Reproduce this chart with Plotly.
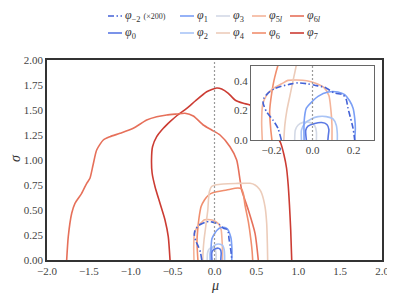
import plotly.graph_objects as go

# ---------------- data ----------------
series_names = ["φ-2", "φ0", "φ1", "φ2", "φ3", "φ4", "φ5l", "φ6", "φ6l", "φ7"]

phim2_mu = [-0.152, -0.168, -0.193, -0.225, -0.241, -0.237, -0.217, -0.185, -0.152, -0.103, -0.071,
            -0.022, 0.011, 0.059, 0.108, 0.149, 0.165, 0.173, 0.186, 0.198, 0.206]
phim2_sigma = [0.0, 0.078, 0.135, 0.192, 0.249, 0.283, 0.317, 0.347, 0.363, 0.379, 0.386,
               0.379, 0.37, 0.356, 0.317, 0.306, 0.272, 0.215, 0.146, 0.078, 0.0]

phi0_mu = [-0.03, -0.033, -0.022, 0.011, 0.045, 0.07, 0.08, 0.077, 0.075]
phi0_sigma = [0.0, 0.066, 0.094, 0.112, 0.118, 0.105, 0.07, 0.03, 0.0]

phi1_mu = [-0.041, -0.041, -0.03, 0.002, 0.027, 0.076, 0.124, 0.157, 0.181, 0.198, 0.206, 0.209, 0.206]
phi1_sigma = [0.0, 0.123, 0.215, 0.265, 0.295, 0.324, 0.324, 0.306, 0.265, 0.215, 0.146, 0.078, 0.0]

phi2_mu = [-0.054, -0.054, -0.038, -0.006, 0.027, 0.067, 0.1, 0.116, 0.121, 0.121]
phi2_sigma = [0.0, 0.066, 0.112, 0.142, 0.158, 0.158, 0.142, 0.1, 0.043, 0.0]

phi3_mu = [-0.087, -0.084, -0.071, -0.046, -0.014, 0.011, 0.019, 0.019]
phi3_sigma = [0.0, 0.066, 0.1, 0.119, 0.119, 0.096, 0.055, 0.0]

phi4_mu = [-0.14, -0.135, -0.125, -0.11, -0.095, -0.08, -0.072, -0.062, -0.035, 0.02, 0.105, 0.25,
           0.424, 0.484, 0.535, 0.563, 0.603, 0.623, 0.631, 0.635]
phi4_sigma = [0.0, 0.1, 0.2, 0.3, 0.4, 0.5, 0.6, 0.68, 0.735, 0.752, 0.76, 0.765,
              0.767, 0.75, 0.71, 0.667, 0.533, 0.367, 0.167, 0.0]

phi5l_mu = [-0.245, -0.248, -0.243, -0.225, -0.195, -0.15, -0.12, -0.077, -0.028, 0.012, 0.055,
            0.08, 0.09, 0.095, 0.095]
phi5l_sigma = [0.0, 0.12, 0.24, 0.3, 0.345, 0.38, 0.403, 0.405, 0.4, 0.385, 0.355,
               0.3, 0.2, 0.1, 0.0]

phi6_mu = [-0.198, -0.204, -0.209, -0.2, -0.185, -0.16, -0.12, -0.07, -0.014, 0.145, 0.28,
           0.324, 0.345, 0.364, 0.404, 0.435, 0.45, 0.456]
phi6_sigma = [0.0, 0.078, 0.192, 0.306, 0.42, 0.534, 0.6, 0.65, 0.675, 0.7, 0.72,
              0.71, 0.66, 0.55, 0.383, 0.2, 0.08, 0.0]

phi6l_mu = [-1.765, -1.746, -1.705, -1.666, -1.586, -1.526, -1.487, -1.45, -1.407, -1.328, -1.248,
            -1.128, -0.97, -0.81, -0.69, -0.571, -0.45, -0.352, -0.253, -0.134, -0.033, 0.066,
            0.185, 0.265, 0.305, 0.324, 0.404, 0.484, 0.523]
phi6l_sigma = [0.0, 0.233, 0.467, 0.567, 0.667, 0.767, 0.817, 0.95, 1.1, 1.2, 1.233,
               1.267, 1.317, 1.4, 1.433, 1.45, 1.46, 1.467, 1.44, 1.35, 1.3, 1.25,
               1.133, 1.0, 0.8, 0.7, 0.5, 0.267, 0.0]

phi7_mu = [-0.531, -0.552, -0.591, -0.651, -0.71, -0.745, -0.752, -0.74, -0.69, -0.611, -0.531,
           -0.44, -0.332, -0.23, -0.093, 0.026, 0.086, 0.165, 0.245, 0.344, 0.424, 0.55, 0.66,
           0.74, 0.79, 0.83, 0.86, 0.88, 0.895, 0.91, 0.922]
phi7_sigma = [0.0, 0.233, 0.4, 0.567, 0.733, 0.87, 1.0, 1.133, 1.233, 1.317, 1.383,
              1.45, 1.517, 1.59, 1.683, 1.72, 1.71, 1.667, 1.6, 1.567, 1.55, 1.47, 1.36,
              1.25, 1.17, 1.05, 0.92, 0.75, 0.55, 0.3, 0.0]

legend_labels = ["<i>φ</i><sub>−2</sub> <span style='font-size:8px'>(×200)</span>",
                 "<i>φ</i><sub>0</sub>", "<i>φ</i><sub>1</sub>", "<i>φ</i><sub>2</sub>",
                 "<i>φ</i><sub>3</sub>", "<i>φ</i><sub>4</sub>", "<i>φ</i><sub>5<i>l</i></sub>",
                 "<i>φ</i><sub>6</sub>", "<i>φ</i><sub>6<i>l</i></sub>", "<i>φ</i><sub>7</sub>"]

main_x_ticks = [-2.0, -1.5, -1.0, -0.5, 0.0, 0.5, 1.0, 1.5, 2.0]
main_y_ticks = [0.0, 0.25, 0.5, 0.75, 1.0, 1.25, 1.5, 1.75, 2.0]
inset_x_ticks = [-0.2, 0.0, 0.2]
inset_y_ticks = [0.0, 0.2, 0.4]

# ---------------- styling ----------------
colors = ["#4462d6", "#5a78e4", "#7b9ff5", "#a9c4f6", "#d3d9e6",
          "#ecccba", "#f4b49a", "#f08e6e", "#e6705a", "#cc3c33"]
dashes = ["6px,2.5px,1.5px,2.5px"] + ["solid"] * 9

data = [(phim2_mu, phim2_sigma), (phi0_mu, phi0_sigma), (phi1_mu, phi1_sigma),
        (phi2_mu, phi2_sigma), (phi3_mu, phi3_sigma), (phi4_mu, phi4_sigma),
        (phi5l_mu, phi5l_sigma), (phi6_mu, phi6_sigma), (phi6l_mu, phi6l_sigma),
        (phi7_mu, phi7_sigma)]

FONT = "Liberation Serif, DejaVu Serif, serif"
OFF = 8  # page body margin of the browser
W, H = 395 - OFF, 299 - OFF
PL, PR, PT, PB = 47, 382, 60, 260          # plot area in window pixels
L, T = PL - OFF, PT - OFF
PW, PH = PR - PL, PB - PT
R, B = W - L - PW, H - T - PH

def pxx(px):
    return (px - PL) / PW

def pxy(py):
    return (PB - py) / PH

fig = go.Figure()

order = [9, 8, 7, 6, 5, 4, 3, 2, 1, 0]
for axes in (("x", "y"), ("x2", "y2")):
    for i in order:
        mu, sg = data[i]
        fig.add_trace(go.Scatter(
            x=mu, y=sg, mode="lines", name=series_names[i], showlegend=False,
            xaxis=axes[0], yaxis=axes[1], hoverinfo="skip",
            line=dict(color=colors[i], width=1.6, dash=dashes[i],
                      shape="spline", smoothing=0.6)))

# dotted zero lines
for xr, yr in (("x", "y domain"), ("x2", "y2 domain")):
    fig.add_shape(type="line", xref=xr, yref=yr, x0=0, x1=0, y0=0, y1=1,
                  line=dict(color="#9a9a9a", width=1.2, dash="2px,2px"), layer="above")

# manual legend (two rows, five columns)
col_px = [108, 180, 216, 252, 290]
row_py = [16, 33]
grid = [[0, 2, 4, 6, 8], [1, 3, 5, 7, 9]]
for r, row in enumerate(grid):
    for c, idx in enumerate(row):
        x0 = col_px[c]
        y = row_py[r]
        fig.add_shape(type="line", xref="paper", yref="paper",
                      x0=pxx(x0), x1=pxx(x0 + 14), y0=pxy(y), y1=pxy(y),
                      line=dict(color=colors[idx], width=1.6, dash=dashes[idx]))
        fig.add_annotation(xref="paper", yref="paper", x=pxx(x0 + 15), y=pxy(y),
                           text=legend_labels[idx], showarrow=False,
                           xanchor="left", yanchor="middle",
                           font=dict(family=FONT, size=12, color="#333"))

# axis titles
fig.add_annotation(xref="paper", yref="paper", x=pxx(214.5), y=pxy(285),
                   text="<i>μ</i>", showarrow=False, xanchor="center", yanchor="middle",
                   font=dict(family=FONT, size=14, color="#333"))
fig.add_annotation(xref="paper", yref="paper", x=pxx(15), y=pxy(158),
                   text="<i>σ</i>", showarrow=False, xanchor="center", yanchor="middle",
                   textangle=-90, font=dict(family=FONT, size=14, color="#333"))

tickfont = dict(family=FONT, size=11, color="#444")
common = dict(showgrid=False, zeroline=False, ticks="", tickfont=tickfont,
              automargin=False, showline=True, mirror=True)
fig.update_layout(
    width=W, height=H, margin=dict(l=L, r=R, t=T, b=B, autoexpand=False),
    paper_bgcolor="white", plot_bgcolor="white", showlegend=False,
    xaxis=dict(domain=[0, 1], range=[-2, 2], tickvals=main_x_ticks, tickformat=".1f",
               linecolor="#333", linewidth=1.8, **common),
    yaxis=dict(domain=[0, 1], range=[0, 2], tickvals=main_y_ticks, tickformat=".2f",
               linecolor="#333", linewidth=1.8, **common),
    xaxis2=dict(domain=[pxx(251), pxx(374)], anchor="y2", range=[-0.3, 0.3],
                tickvals=inset_x_ticks, tickformat=".1f",
                linecolor="#666", linewidth=1, **common),
    yaxis2=dict(domain=[pxy(140), pxy(66)], anchor="x2", range=[0, 0.5],
                tickvals=inset_y_ticks, tickformat=".1f",
                linecolor="#666", linewidth=1, **common),
)

fig.write_html("out.html")
